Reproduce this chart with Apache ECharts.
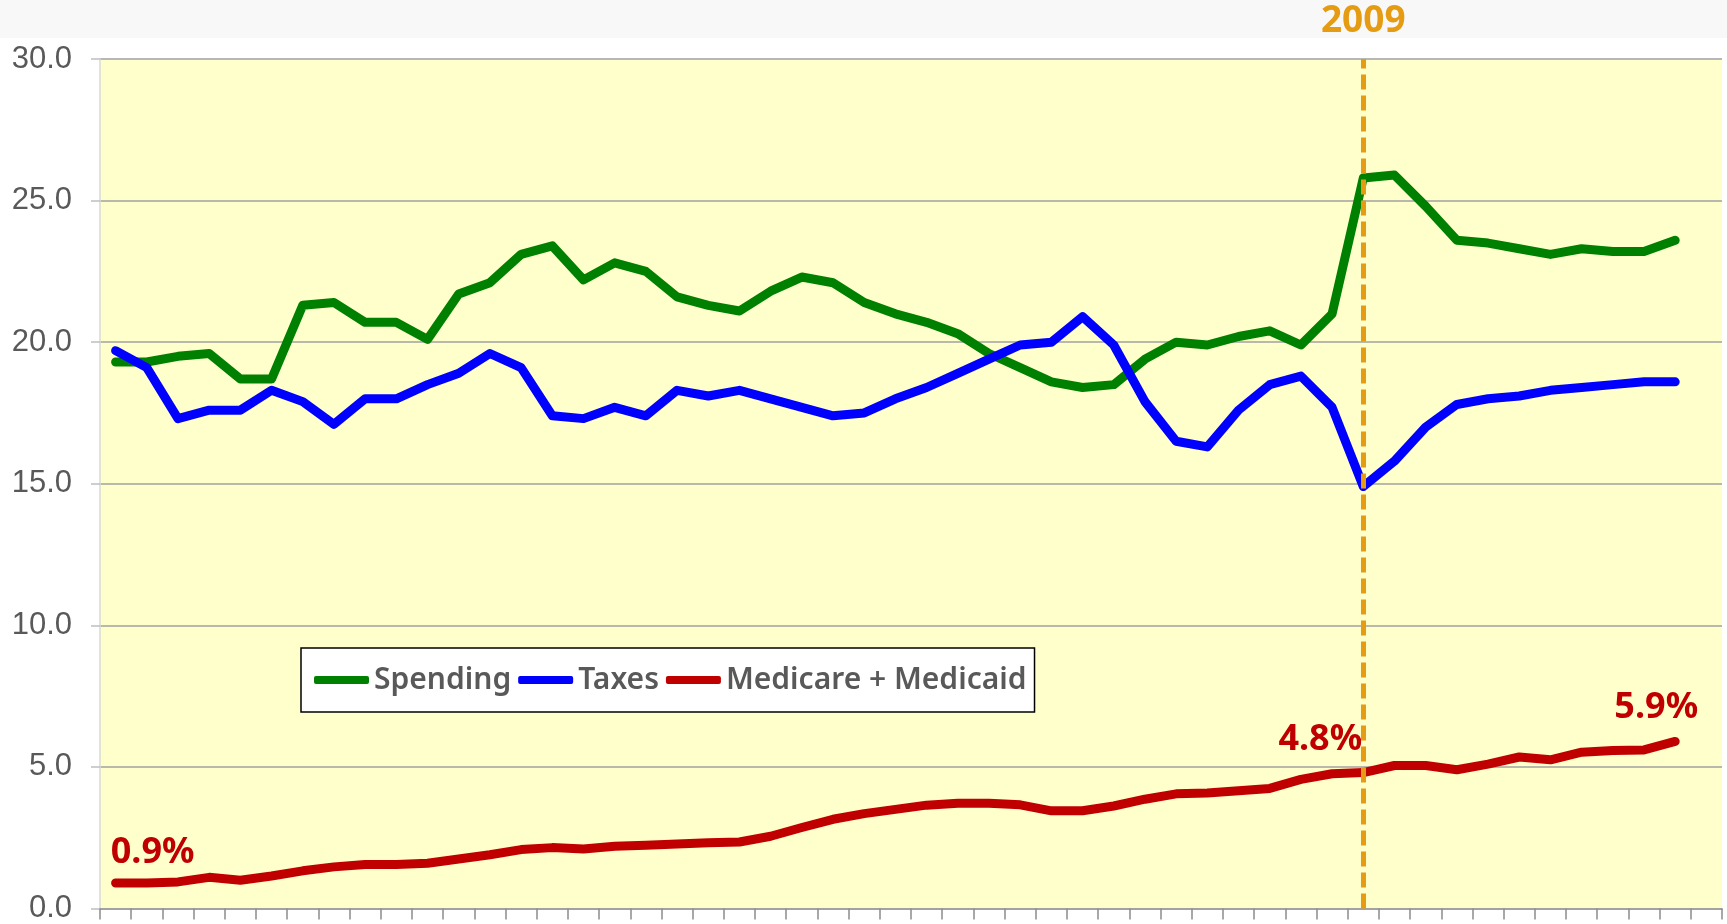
<!DOCTYPE html>
<html>
<head>
<meta charset="utf-8">
<title>Spending, Taxes, Medicare + Medicaid</title>
<script src="https://cdn.jsdelivr.net/npm/echarts@6/dist/echarts.min.js"></script>
<style>
  html, body { margin: 0; padding: 0; background: #fff; }
  #chart { width: 1727px; height: 924px; }
</style>
</head>
<body>
<div id="chart"></div>
<script>
// years 1969..2020 (last category left empty, as in the original)
const years = [];
for (let y = 1969; y <= 2020; y++) years.push(String(y));

// % of GDP
const spending = [
  19.3, 19.3, 19.5, 19.6, 18.7, 18.7, 21.3, 21.4, 20.7, 20.7,
  20.1, 21.7, 22.1, 23.1, 23.4, 22.2, 22.8, 22.5, 21.6, 21.3,
  21.1, 21.8, 22.3, 22.1, 21.4, 21.0, 20.7, 20.3, 19.6, 19.1,
  18.6, 18.4, 18.5, 19.4, 20.0, 19.9, 20.2, 20.4, 19.9, 21.0,
  25.8, 25.9, 24.8, 23.6, 23.5, 23.3, 23.1, 23.3, 23.2, 23.2,
  23.6
];
const taxes = [
  19.7, 19.1, 17.3, 17.6, 17.6, 18.3, 17.9, 17.1, 18.0, 18.0,
  18.5, 18.9, 19.6, 19.1, 17.4, 17.3, 17.7, 17.4, 18.3, 18.1,
  18.3, 18.0, 17.7, 17.4, 17.5, 18.0, 18.4, 18.9, 19.4, 19.9,
  20.0, 20.9, 19.9, 17.9, 16.5, 16.3, 17.6, 18.5, 18.8, 17.7,
  14.9, 15.8, 17.0, 17.8, 18.0, 18.1, 18.3, 18.4, 18.5, 18.6,
  18.6
];
const medicare = [
  0.9, 0.9, 0.94, 1.1, 1.0, 1.15, 1.33, 1.47, 1.55, 1.55,
  1.6, 1.75, 1.9, 2.08, 2.15, 2.1, 2.2, 2.23, 2.28, 2.32,
  2.35, 2.55, 2.86, 3.15, 3.35, 3.5, 3.65, 3.72, 3.72, 3.66,
  3.45, 3.45, 3.62, 3.86, 4.05, 4.08, 4.16, 4.24, 4.56, 4.76,
  4.8, 5.05, 5.05, 4.9, 5.1, 5.35, 5.25, 5.52, 5.58, 5.6,
  5.9
];
const yTicks = [0, 5, 10, 15, 20, 25, 30];
const markYear = '2009';
const seriesNames = ['Spending', 'Taxes', 'Medicare + Medicaid'];
const seriesColors = ['#008000', '#0000FF', '#C00000'];

const chart = echarts.init(document.getElementById('chart'));

const lineStyleFor = (c) => ({ color: c, width: 9, cap: 'round', join: 'round' });

// annotations on the Medicare + Medicaid line
const markIdx = years.indexOf(markYear);
const lastIdx = medicare.length - 1;
const pctLabel = (i, off) => ({
  coord: [years[i], medicare[i]],
  value: medicare[i],
  label: { offset: off, formatter: medicare[i].toFixed(1) + '%' }
});

const option = {
  animation: false,
  backgroundColor: '#ffffff',
  graphic: [{
    type: 'rect', left: 0, top: 0, z: -10,
    shape: { width: 1727, height: 38 },
    style: { fill: '#f8f8f8' }
  }],
  grid: {
    left: 100, right: 5, top: 59, bottom: 14,
    show: true, backgroundColor: '#FFFFCC', borderWidth: 0
  },
  legend: {
    left: 301, top: 648,
    orient: 'horizontal',
    backgroundColor: '#ffffff',
    borderColor: '#000000',
    borderWidth: 1.5,
    borderRadius: 0,
    padding: [17, 8, 17, 13],
    itemWidth: 55,
    itemHeight: 8,
    itemGap: 7,
    icon: 'roundRect',
    textStyle: {
      color: '#595959', fontSize: 30, fontWeight: 600,
      fontFamily: 'Noto Sans'
    },
    data: seriesNames
  },
  xAxis: {
    type: 'category',
    data: years,
    boundaryGap: true,
    axisLine: { show: true, lineStyle: { color: '#9a9a9a', width: 1.5 } },
    axisTick: { show: true, interval: 0, length: 11, lineStyle: { color: '#8c8c8c', width: 1.5 } },
    axisLabel: { show: false },
    splitLine: { show: false }
  },
  yAxis: {
    type: 'value',
    min: yTicks[0],
    max: yTicks[yTicks.length - 1],
    interval: 5,
    axisLine: { show: true, lineStyle: { color: '#d9d9d9', width: 1.5 } },
    axisTick: { show: true, length: 9, lineStyle: { color: '#bfbfbf', width: 1.5 } },
    axisLabel: {
      margin: 28,
      color: '#595959',
      fontSize: 31,
      fontFamily: 'Liberation Sans',
      formatter: (v) => v.toFixed(1)
    },
    splitLine: { show: true, lineStyle: { color: '#a0a0a0', width: 1.5 } }
  },
  series: [
    {
      name: seriesNames[0], type: 'line', data: spending,
      color: seriesColors[0], symbol: 'none', lineStyle: lineStyleFor(seriesColors[0]),
      markLine: {
        silent: true, symbol: 'none',
        lineStyle: { color: '#E59B12', width: 5, type: [15, 6] },
        label: {
          show: true, position: 'end', distance: 19,
          formatter: markYear,
          color: '#E59B12', fontSize: 37, fontWeight: 'bold', fontFamily: 'Noto Sans'
        },
        data: [{ xAxis: markYear }]
      },
      z: 2
    },
    {
      name: seriesNames[1], type: 'line', data: taxes,
      color: seriesColors[1], symbol: 'none', lineStyle: lineStyleFor(seriesColors[1]),
      z: 3
    },
    {
      name: seriesNames[2], type: 'line', data: medicare,
      color: seriesColors[2], symbol: 'none', lineStyle: lineStyleFor(seriesColors[2]),
      markPoint: {
        symbol: 'circle', symbolSize: 0, silent: true,
        label: {
          show: true, position: 'inside',
          color: '#C00000', fontSize: 36, fontWeight: 'bold', fontFamily: 'Noto Sans'
        },
        data: [
          pctLabel(0, [37, -30]),
          pctLabel(markIdx, [-43, -33]),
          pctLabel(lastIdx, [-19, -34])
        ]
      },
      z: 4
    }
  ]
};

chart.setOption(option);
</script>
</body>
</html>
